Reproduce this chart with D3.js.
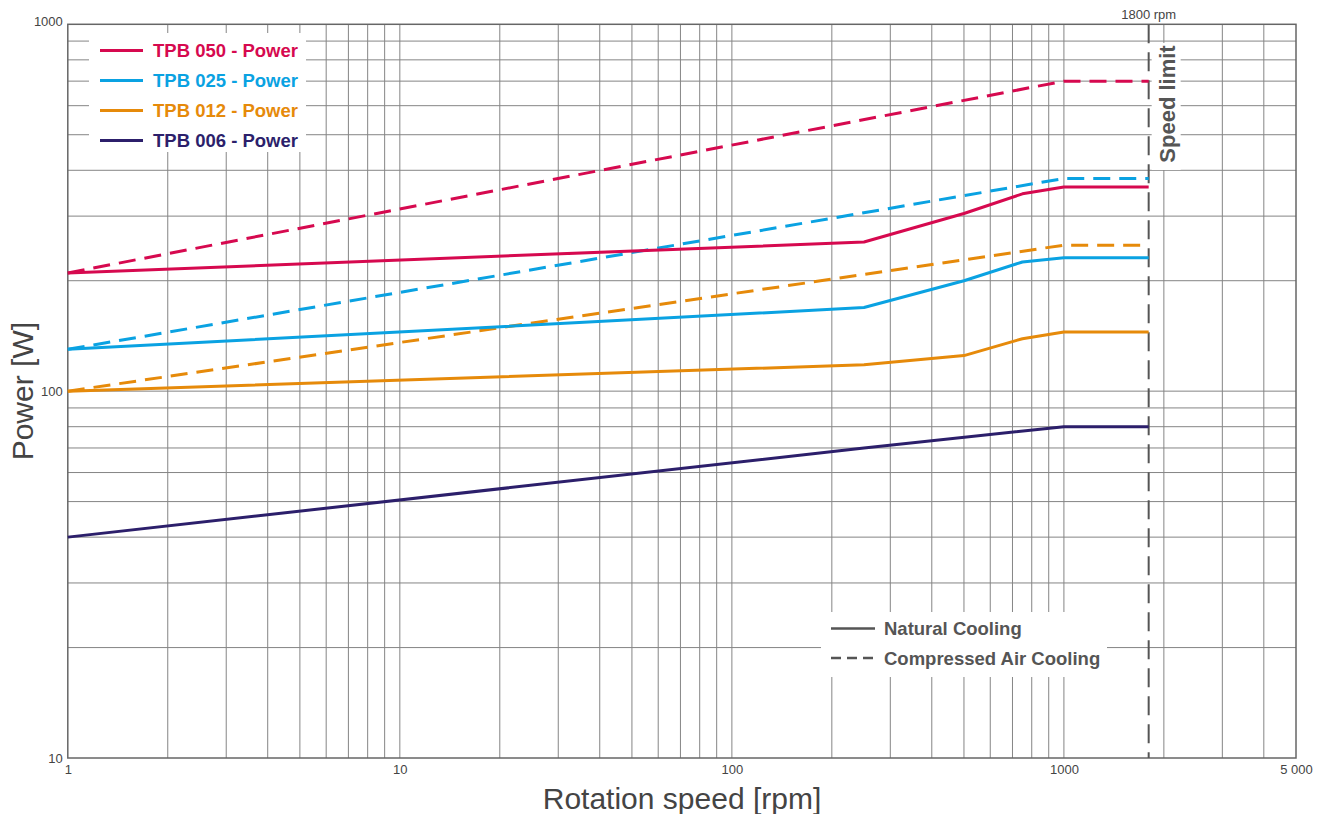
<!DOCTYPE html>
<html>
<head>
<meta charset="utf-8">
<script src="https://cdn.jsdelivr.net/npm/d3@7"></script>
<style>
  body { margin: 0; background: #fff; }
  svg { display: block; font-family: 'Liberation Sans', Arial, sans-serif; }
</style>
</head>
<body>
<svg id="chart" width="1325" height="814"></svg>
<script>
// ---- data ----
const seriesNames = ["TPB 050 - Power", "TPB 025 - Power", "TPB 012 - Power", "TPB 006 - Power"];
const seriesColors = ["#d6094f", "#0aa2e2", "#e68a0a", "#2c1f6b"];
// Natural cooling (solid)
const speedNatural = [1, 250, 500, 750, 1000, 1800];
const tpb050Natural = [210, 255, 305, 345, 360, 360];
const tpb025Natural = [130, 169, 200, 225, 231, 231];
const tpb012Natural = [100, 118, 125, 139, 145, 145];
const speed006 = [1, 250, 1000, 1800];
const tpb006Natural = [40, 70, 80, 80];
// Compressed air cooling (dashed)
const speedAir = [1, 1000, 1800];
const tpb050Air = [210, 700, 700];
const tpb025Air = [130, 380, 380];
const tpb012Air = [100, 250, 250];

const xTickValues = [1, 10, 100, 1000, 5000];
const xTickLabels = ["1", "10", "100", "1000", "5 000"];
const yTickValues = [10, 100, 1000];
const yTickLabels = ["10", "100", "1000"];
const speedLimit = 1800;
const speedLimitLabel = "1800 rpm";
const coolingLabels = ["Natural Cooling", "Compressed Air Cooling"];

// ---- layout ----
const FONT = "'Liberation Sans', Arial, sans-serif";
const svg = d3.select("#chart");
const L = 67.8, R = 1296, T = 24.3, B = 758;
const x = d3.scaleLog().domain([1, 5000]).range([L, R]);
const y = d3.scaleLog().domain([10, 1000]).range([B, T]);
const textCol = "#444";
const gridCol = "#858585";

// grid
const xGrid = [];
for (let d = 1; d <= 1000; d *= 10) for (let m = 1; m <= 9; m++) { const v = d * m; if (v > 1 && v < 5000) xGrid.push(v); }
const yGrid = [];
for (let d = 10; d <= 100; d *= 10) for (let m = 1; m <= 9; m++) { const v = d * m; if (v > 10 && v < 1000) yGrid.push(v); }

const g = svg.append("g");
g.selectAll("line.xg").data(xGrid).join("line")
  .attr("x1", d => x(d)).attr("x2", d => x(d)).attr("y1", T).attr("y2", B)
  .attr("stroke", gridCol).attr("stroke-width", 1);
g.selectAll("line.yg").data(yGrid).join("line")
  .attr("y1", d => y(d)).attr("y2", d => y(d)).attr("x1", L).attr("x2", R)
  .attr("stroke", gridCol).attr("stroke-width", 1);

// frame
svg.append("rect").attr("x", L).attr("y", T).attr("width", R - L).attr("height", B - T)
  .attr("fill", "none").attr("stroke", "#666").attr("stroke-width", 1.5);

// axes tick labels via d3 axes
const xAxis = d3.axisBottom(x).tickValues(xTickValues).tickSize(0)
  .tickFormat((d, i) => xTickLabels[i]);
const xa = svg.append("g").attr("transform", `translate(0,${B})`).call(xAxis);
xa.select(".domain").remove();
xa.selectAll("text").attr("dy", 0).attr("y", 16).attr("fill", textCol)
  .style("font-size", "13px").style("font-family", FONT);

const yAxis = d3.axisLeft(y).tickValues(yTickValues).tickSize(0)
  .tickFormat((d, i) => yTickLabels[i]);
const ya = svg.append("g").attr("transform", `translate(${L - 5},0)`).call(yAxis);
ya.select(".domain").remove();
ya.selectAll("text").attr("x", 0).attr("dy", "0.32em").attr("fill", textCol)
  .style("font-size", "13px").style("font-family", FONT);
ya.selectAll(".tick").filter(d => d === 1000).select("text").attr("dy", "0.1em");

// axis titles
svg.append("text").attr("x", 682).attr("y", 809).attr("text-anchor", "middle")
  .attr("fill", textCol).style("font-size", "30px").style("font-family", FONT).text("Rotation speed [rpm]");
svg.append("text").attr("transform", `translate(33,${(T + B) / 2}) rotate(-90)`)
  .attr("text-anchor", "middle").attr("fill", textCol).style("font-size", "30px").style("font-family", FONT).text("Power [W]");

// speed limit
svg.append("line").attr("x1", x(speedLimit)).attr("x2", x(speedLimit)).attr("y1", T).attr("y2", B)
  .attr("stroke", "#555").attr("stroke-width", 2).attr("stroke-dasharray", "19,9");
svg.append("text").attr("x", x(speedLimit)).attr("y", 19).attr("text-anchor", "middle")
  .attr("fill", textCol).style("font-size", "13px").style("font-family", FONT).text(speedLimitLabel);
svg.append("rect").attr("x", x(speedLimit) + 3).attr("y", 43).attr("width", 29).attr("height", 127).attr("fill", "#fff");
svg.append("text").attr("transform", `translate(${x(speedLimit) + 26},${104}) rotate(-90)`)
  .attr("text-anchor", "middle").attr("fill", "#555").style("font-size", "22px").style("font-weight", "bold")
  .style("font-family", FONT).text("Speed limit");

// lines
const line = d3.line().x(d => x(d[0])).y(d => y(d[1]));
const zipd = (xs, ys) => xs.map((v, i) => [v, ys[i]]);
const solidData = [zipd(speedNatural, tpb050Natural), zipd(speedNatural, tpb025Natural), zipd(speedNatural, tpb012Natural), zipd(speed006, tpb006Natural)];
const dashData = [zipd(speedAir, tpb050Air), zipd(speedAir, tpb025Air), zipd(speedAir, tpb012Air)];

dashData.forEach((d, i) => {
  svg.append("path").attr("d", line(d)).attr("fill", "none").attr("stroke", seriesColors[i])
    .attr("stroke-width", 3).attr("stroke-dasharray", "17,9");
});
solidData.forEach((d, i) => {
  svg.append("path").attr("d", line(d)).attr("fill", "none").attr("stroke", seriesColors[i])
    .attr("stroke-width", 3).attr("stroke-linejoin", "round");
});

// series legend
svg.append("rect").attr("x", 89).attr("y", 33).attr("width", 217).attr("height", 119).attr("fill", "#fff");
const lg = svg.append("g");
seriesNames.forEach((n, i) => {
  const yy = 50.5 + i * 30;
  lg.append("line").attr("x1", 100).attr("x2", 143).attr("y1", yy).attr("y2", yy)
    .attr("stroke", seriesColors[i]).attr("stroke-width", 3);
  lg.append("text").attr("x", 153).attr("y", yy + 6.5).attr("fill", seriesColors[i])
    .style("font-size", "18.5px").style("font-weight", "bold").style("font-family", FONT).text(n);
});

// cooling legend
svg.append("rect").attr("x", 821).attr("y", 612).attr("width", 286).attr("height", 65).attr("fill", "#fff");
const cl = svg.append("g");
[628.5, 658].forEach((yy, i) => {
  cl.append("line").attr("x1", 831).attr("x2", 875).attr("y1", yy).attr("y2", yy)
    .attr("stroke", "#555").attr("stroke-width", 2.5)
    .attr("stroke-dasharray", i === 1 ? "10,6" : null);
  cl.append("text").attr("x", 884).attr("y", yy + 6.5).attr("fill", "#555")
    .style("font-size", "18.5px").style("font-weight", "bold").style("font-family", FONT).text(coolingLabels[i]);
});
</script>
</body>
</html>
